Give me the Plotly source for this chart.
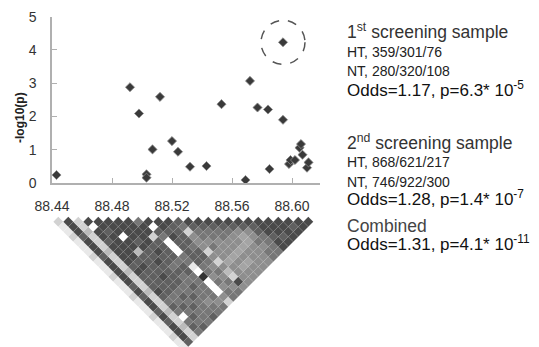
import plotly.graph_objects as go

# ---------------- data ----------------
positions_mb = [88.443, 88.492, 88.498, 88.503, 88.503, 88.507, 88.512, 88.520, 88.524,
                88.532, 88.543, 88.553, 88.569, 88.572, 88.577, 88.584, 88.585, 88.594,
                88.594, 88.598, 88.599, 88.602, 88.605, 88.606, 88.607, 88.610, 88.611]
neglog_p = [0.24, 2.88, 2.09, 0.26, 0.16, 1.01, 2.59, 1.26, 0.94,
            0.49, 0.51, 2.37, 0.09, 3.07, 2.27, 2.21, 0.42, 4.23,
            1.90, 0.57, 0.69, 0.69, 1.06, 1.17, 0.85, 0.46, 0.62]
highlight_index = 17

x_tick_vals = [88.44, 88.48, 88.52, 88.56, 88.60]
x_tick_text = ["88.44", "88.48", "88.52", "88.56", "88.60"]
y_tick_vals = [0, 1, 2, 3, 4, 5]
y_title = "-log10(p)"

# pairwise LD shade levels (0 = white ... 9 = black), row i holds pairs (i, j>i)
ld_rows = [
    "21121112111211121112111211",
    "8887888788888787887878887",
    "223222322232223222322322",
    "80887888878777876760676",
    "8878888878777776676767",
    "888088377778776767666",
    "88887877877776676667",
    "8888878776766766566",
    "688277776776666656",
    "80760006610900052",
    "8878777776656566",
    "877776776565656",
    "76255525253285",
    "8766565545555",
    "876655545455",
    "87665545455",
    "8765545555",
    "875445555",
    "87556566",
    "8776666",
    "888788",
    "88878",
    "8888",
    "878",
    "88",
    "8",
]

stat_lines = [
    "1<sup>st</sup> screening sample",
    "HT, 359/301/76",
    "NT, 280/320/108",
    "Odds=1.17, p=6.3* 10<sup>-5</sup>",
    "2<sup>nd</sup> screening sample",
    "HT, 868/621/217",
    "NT, 746/922/300",
    "Odds=1.28, p=1.4* 10<sup>-7</sup>",
    "Combined",
    "Odds=1.31, p=4.1* 10<sup>-11</sup>",
]

# ---------------- layout constants ----------------
W, H = 539, 347
FONT = "Liberation Sans, Arial, Helvetica, sans-serif"
AXC = "#b0b0b0"

def px(xp):
    return xp / W

def py(yp):
    return 1 - yp / H

fig = go.Figure()

# association scatter
fig.add_trace(go.Scatter(
    x=positions_mb, y=neglog_p, mode="markers",
    marker=dict(symbol="diamond", size=7, color="#3a3a3a",
                line=dict(width=0.8, color="#8a8a8a")),
    cliponaxis=False, xaxis="x", yaxis="y", hoverinfo="skip", showlegend=False,
))

# LD triangle
ld_x, ld_y, ld_c = [], [], []
for i, row in enumerate(ld_rows):
    for k, ch in enumerate(row):
        j = i + 1 + k
        ld_x.append((i + j) / 2)
        ld_y.append(-(j - i))
        ld_c.append(int(ch))

fig.add_trace(go.Scatter(
    x=ld_x, y=ld_y, mode="markers",
    marker=dict(symbol="diamond", size=7.6, color=ld_c,
                colorscale=[[0, "#ffffff"], [1, "#333333"]], cmin=0, cmax=9,
                showscale=False, line=dict(width=0)),
    cliponaxis=False, xaxis="x2", yaxis="y2", hoverinfo="skip", showlegend=False,
))

x_lo = 88.44
x_hi = 88.44 + (320 - 52) / 1500

fig.update_layout(
    width=W, height=H,
    margin=dict(l=0, r=0, t=0, b=0, pad=0, autoexpand=False),
    paper_bgcolor="white", plot_bgcolor="white",
    showlegend=False,
    font=dict(family=FONT, color="#333333"),
    xaxis=dict(
        domain=[px(52), px(320)], range=[x_lo, x_hi],
        showline=True, linecolor=AXC, linewidth=1.5,
        ticks="inside", ticklen=5, tickcolor=AXC, tickwidth=1.2,
        tickvals=x_tick_vals, ticktext=x_tick_text,
        tickfont=dict(size=14, color="#333333", family=FONT),
        ticklabelstandoff=9, automargin=False,
        showgrid=False, zeroline=False, anchor="y",
    ),
    yaxis=dict(
        domain=[py(183), py(16.7)], range=[0, 5],
        showline=True, linecolor=AXC, linewidth=1.5,
        ticks="inside", ticklen=5, tickcolor=AXC, tickwidth=1.2,
        tickvals=y_tick_vals,
        tickfont=dict(size=14, color="#333333", family=FONT),
        ticklabelstandoff=11, automargin=False,
        showgrid=False, zeroline=False, anchor="x",
    ),
    xaxis2=dict(domain=[px(48.3), px(318.3)], range=[-0.5, 26.5],
                visible=False, anchor="y2", automargin=False),
    yaxis2=dict(domain=[0, py(212)], range=[-26.06, 0.94],
                visible=False, anchor="x2", automargin=False),
)

# highlighted SNP circle
fig.add_shape(
    type="circle", xref="x", yref="y",
    xsizemode="pixel", ysizemode="pixel",
    xanchor=positions_mb[highlight_index], yanchor=neglog_p[highlight_index],
    x0=-22, x1=22, y0=-22, y1=22,
    line=dict(color="#555555", width=1.5, dash="dash"),
)

# y-axis title
fig.add_annotation(
    text="<b>" + y_title + "</b>", xref="paper", yref="paper",
    x=px(20), y=py(118), xanchor="center", yanchor="middle",
    textangle=-90, showarrow=False,
    font=dict(size=12, color="#222222", family=FONT),
)

# right-hand statistics
line_y = [31, 52, 71, 89, 142, 162, 182, 198, 226, 243]
line_size = [17.5, 14, 14, 17, 17.5, 14, 14, 17, 17.5, 17]
line_color = ["#333333", "#222222", "#222222", "#111111", "#333333",
              "#222222", "#222222", "#111111", "#444444", "#111111"]
for txt, yy, sz, col in zip(stat_lines, line_y, line_size, line_color):
    fig.add_annotation(
        text=txt, xref="paper", yref="paper", x=px(345), y=py(yy),
        xanchor="left", yanchor="middle", showarrow=False,
        font=dict(size=sz, color=col, family=FONT),
    )

fig.write_html(
    "out.html",
    config={"displayModeBar": False},
    post_script="document.body.style.margin='0';document.body.style.padding='0';"
                "document.body.style.overflow='hidden';",
)
